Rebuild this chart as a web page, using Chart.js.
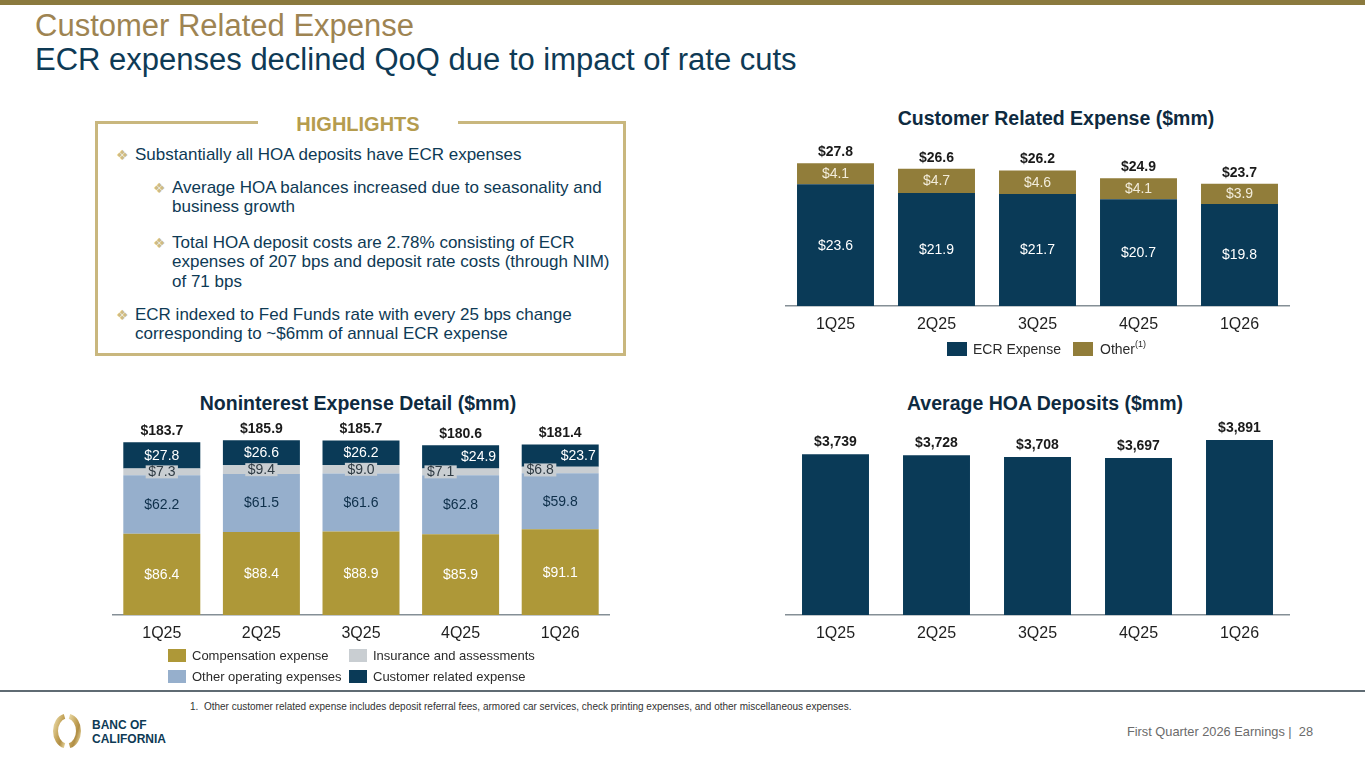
<!DOCTYPE html>
<html><head><meta charset="utf-8">
<script src="https://cdn.jsdelivr.net/npm/chart.js@4.4.1/dist/chart.umd.min.js"></script>
<style>
html,body{margin:0;padding:0}
body{width:1365px;height:768px;position:relative;background:#fff;font-family:"Liberation Sans",Arial,sans-serif;overflow:hidden}
.a{position:absolute;white-space:nowrap}
.topbar{left:0;top:0;width:1365px;height:5px;background:#8B7A3E}
.t1{left:35px;top:9px;font-size:31px;line-height:34px;color:#9E8452}
.t2{left:35px;top:43px;font-size:31px;line-height:34px;color:#0E3A55}
.box{left:95px;top:121px;width:525px;height:229px;border:3px solid #C9B77E}
.hl{left:258px;top:110px;width:200px;height:28px;background:#fff;text-align:center;font-weight:bold;font-size:20px;line-height:28px;color:#B59C4E}
.item{font-size:17px;line-height:19.3px;color:#0E3A55}
.bul{font-family:"DejaVu Sans";font-size:14px;line-height:16px;color:#CDBB84}
.ct{font-weight:bold;font-size:19.5px;color:#0E2A40;text-align:center;line-height:24px}
.lg{font-size:14px;color:#2b2b2b;line-height:16px}
.lg2{font-size:13px;color:#2b2b2b;line-height:15px}
.sq{position:absolute}
sup{font-size:9px;line-height:0;position:relative;top:-1px;vertical-align:super}
canvas{position:absolute}
</style></head><body>
<div class="a topbar"></div>
<div class="a t1">Customer Related Expense</div>
<div class="a t2">ECR expenses declined QoQ due to impact of rate cuts</div>

<div class="a box"></div>
<div class="a hl">HIGHLIGHTS</div>
<div class="a bul" style="left:116px;top:147px">❖</div>
<div class="a item" style="left:135px;top:145px">Substantially all HOA deposits have ECR expenses</div>
<div class="a bul" style="left:153px;top:180px">❖</div>
<div class="a item" style="left:172px;top:178px">Average HOA balances increased due to seasonality and<br>business growth</div>
<div class="a bul" style="left:153px;top:235px">❖</div>
<div class="a item" style="left:172px;top:233px">Total HOA deposit costs are 2.78% consisting of ECR<br>expenses of 207 bps and deposit rate costs (through NIM)<br>of 71 bps</div>
<div class="a bul" style="left:116px;top:307px">❖</div>
<div class="a item" style="left:135px;top:305px">ECR indexed to Fed Funds rate with every 25 bps change<br>corresponding to ~$6mm of annual ECR expense</div>

<div class="a ct" style="left:856px;top:106px;width:400px">Customer Related Expense ($mm)</div>
<div class="a ct" style="left:158px;top:391px;width:400px">Noninterest Expense Detail ($mm)</div>
<div class="a ct" style="left:845px;top:391px;width:400px">Average HOA Deposits ($mm)</div>

<canvas id="c1" width="505" height="226" style="left:785px;top:120px"></canvas>
<canvas id="c2" width="498" height="243" style="left:112px;top:412px"></canvas>
<canvas id="c3" width="505" height="243" style="left:785px;top:412px"></canvas>

<div class="sq" style="left:947px;top:342px;width:20px;height:14px;background:#0A3A57"></div>
<div class="a lg" style="left:973px;top:341px">ECR Expense</div>
<div class="sq" style="left:1073px;top:342px;width:20px;height:14px;background:#917D3A"></div>
<div class="a lg" style="left:1100px;top:341px">Other<sup>(1)</sup></div>

<div class="sq" style="left:168px;top:649px;width:18px;height:13px;background:#AE9838"></div>
<div class="a lg2" style="left:192px;top:648px">Compensation expense</div>
<div class="sq" style="left:349px;top:649px;width:18px;height:13px;background:#C9CED2"></div>
<div class="a lg2" style="left:373px;top:648px">Insurance and assessments</div>
<div class="sq" style="left:168px;top:670px;width:18px;height:13px;background:#96AFCC"></div>
<div class="a lg2" style="left:192px;top:669px">Other operating expenses</div>
<div class="sq" style="left:349px;top:670px;width:18px;height:13px;background:#0A3A57"></div>
<div class="a lg2" style="left:373px;top:669px">Customer related expense</div>

<div class="a" style="left:0;top:690px;width:1365px;height:1.5px;background:#5F6B73"></div>
<div class="a" style="left:190px;top:701px;font-size:10px;color:#333">1.&nbsp; Other customer related expense includes deposit referral fees, armored car services, check printing expenses, and other miscellaneous expenses.</div>
<div class="a" style="left:1110px;top:724px;width:203px;text-align:right;font-size:12.8px;color:#6B6B6B">First Quarter 2026 Earnings |&nbsp; 28</div>

<svg class="a" style="left:50px;top:709px" width="34" height="44" viewBox="0 0 34 44">
  <defs><linearGradient id="g" x1="0" y1="0" x2="1" y2="1">
    <stop offset="0" stop-color="#E6D5A0"/><stop offset="0.45" stop-color="#C4A45A"/><stop offset="0.7" stop-color="#B08E45"/><stop offset="1" stop-color="#E2CE93"/></linearGradient></defs>
  <path d="M14.5 7.36 A11.5 15 0 0 0 14.5 36.64" fill="none" stroke="url(#g)" stroke-width="5"/>
  <path d="M19.5 7.36 A11.5 15 0 0 1 19.5 36.64" fill="none" stroke="url(#g)" stroke-width="5"/>
</svg>
<div class="a" style="left:92px;top:718px;font-weight:bold;font-size:12px;line-height:14px;color:#0E3A55">BANC OF<br>CALIFORNIA</div>

<script>
const quarters = ['1Q25','2Q25','3Q25','4Q25','1Q26'];
const ecrExpense = [23.6, 21.9, 21.7, 20.7, 19.8];
const otherExpense = [4.1, 4.7, 4.6, 4.1, 3.9];
const customerTotals = [27.8, 26.6, 26.2, 24.9, 23.7];

const compensation = [86.4, 88.4, 88.9, 85.9, 91.1];
const otherOperating = [62.2, 61.5, 61.6, 62.8, 59.8];
const insurance = [7.3, 9.4, 9.0, 7.1, 6.8];
const customerRelated = [27.8, 26.6, 26.2, 24.9, 23.7];
const nonintTotals = [183.7, 185.9, 185.7, 180.6, 181.4];

const hoaDeposits = [3739, 3728, 3708, 3697, 3891];

Chart.defaults.font.family = '"Liberation Sans", Arial, sans-serif';

const fmt1 = v => '$' + v.toFixed(1);
const fmt0 = v => '$' + v.toLocaleString('en-US');

const labelPlugin = {
  id: 'barLabels',
  afterDatasetsDraw(chart, args, opts) {
    const ctx = chart.ctx;
    ctx.save();
    ctx.textAlign = 'center';
    ctx.textBaseline = 'middle';
    (opts.segments || []).forEach((cfg, di) => {
      if (!cfg) return;
      const ds = chart.data.datasets[di];
      const meta = chart.getDatasetMeta(di);
      meta.data.forEach((el, i) => {
        const text = cfg.fmt(ds.data[i]);
        const x = el.x + (cfg.dx ? cfg.dx[i] : 0);
        const y = (el.y + el.base) / 2;
        ctx.font = cfg.font;
        if (cfg.bg) {
          const w = ctx.measureText(text).width + 5;
          ctx.fillStyle = cfg.bg;
          ctx.fillRect(x - w / 2, y - 6.5, w, 13);
        }
        ctx.fillStyle = cfg.color;
        ctx.fillText(text, x, y + 0.5);
      });
    });
    if (opts.totals) {
      const t = opts.totals;
      const meta = chart.getDatasetMeta(chart.data.datasets.length - 1);
      ctx.font = t.font;
      ctx.fillStyle = t.color;
      meta.data.forEach((el, i) => {
        ctx.fillText(t.fmt(t.values[i]), el.x, el.y - t.gap);
      });
    }
    ctx.restore();
  }
};

function opts(yMin, yMax, padTop, stacked, labelOpts) {
  return {
    responsive: false, animation: false,
    layout: { padding: { top: padTop, left: 0, right: 0, bottom: 0 } },
    plugins: { legend: { display: false }, tooltip: { enabled: false }, barLabels: labelOpts },
    scales: {
      x: { stacked: stacked,
           grid: { display: false, drawTicks: false },
           border: { display: true, color: '#858F96', width: 1.5 },
           ticks: { color: '#1f1f1f', font: { size: 16 }, padding: 9 },
           afterFit(s) { s.height = 40; } },
      y: { stacked: stacked, display: false, min: yMin, max: yMax }
    }
  };
}

const NAVY = '#0A3A57';

new Chart(document.getElementById('c1'), {
  type: 'bar',
  data: { labels: quarters, datasets: [
    { label: 'ECR Expense', data: ecrExpense, backgroundColor: NAVY, barPercentage: 0.762, categoryPercentage: 1 },
    { label: 'Other', data: otherExpense, backgroundColor: '#917D3A', barPercentage: 0.762, categoryPercentage: 1 }
  ]},
  options: opts(0, 32, 21, true, {
    segments: [
      { fmt: fmt1, font: '14px "Liberation Sans"', color: '#FFFFFF' },
      { fmt: fmt1, font: '14px "Liberation Sans"', color: '#F2ECDA' }
    ],
    totals: { values: customerTotals, fmt: fmt1, font: 'bold 14px "Liberation Sans"', color: '#1a1a1a', gap: 11 }
  }),
  plugins: [labelPlugin]
});

new Chart(document.getElementById('c2'), {
  type: 'bar',
  data: { labels: quarters, datasets: [
    { label: 'Compensation expense', data: compensation, backgroundColor: '#AE9838', barPercentage: 0.773, categoryPercentage: 1 },
    { label: 'Other operating expenses', data: otherOperating, backgroundColor: '#96AFCC', barPercentage: 0.773, categoryPercentage: 1 },
    { label: 'Insurance and assessments', data: insurance, backgroundColor: '#C9CED2', barPercentage: 0.773, categoryPercentage: 1 },
    { label: 'Customer related expense', data: customerRelated, backgroundColor: NAVY, barPercentage: 0.773, categoryPercentage: 1 }
  ]},
  options: opts(0, 200, 15, true, {
    segments: [
      { fmt: fmt1, font: '14px "Liberation Sans"', color: '#FFFFFF' },
      { fmt: fmt1, font: '14px "Liberation Sans"', color: '#0E2F4A' },
      { fmt: fmt1, font: '14px "Liberation Sans"', color: '#2F3B44', bg: '#C9CED2', dx: [0, 0, 0, -20, -20] },
      { fmt: fmt1, font: '14px "Liberation Sans"', color: '#FFFFFF', dx: [0, 0, 0, 18, 18] }
    ],
    totals: { values: nonintTotals, fmt: fmt1, font: 'bold 14px "Liberation Sans"', color: '#1a1a1a', gap: 11 }
  }),
  plugins: [labelPlugin]
});

new Chart(document.getElementById('c3'), {
  type: 'bar',
  data: { labels: quarters, datasets: [
    { label: 'Average HOA Deposits', data: hoaDeposits, backgroundColor: NAVY, barPercentage: 0.663, categoryPercentage: 1 }
  ]},
  options: opts(2000, 4000, 18, false, {
    segments: [],
    totals: { values: hoaDeposits, fmt: fmt0, font: 'bold 14px "Liberation Sans"', color: '#1a1a1a', gap: 12 }
  }),
  plugins: [labelPlugin]
});
</script>
</body></html>
